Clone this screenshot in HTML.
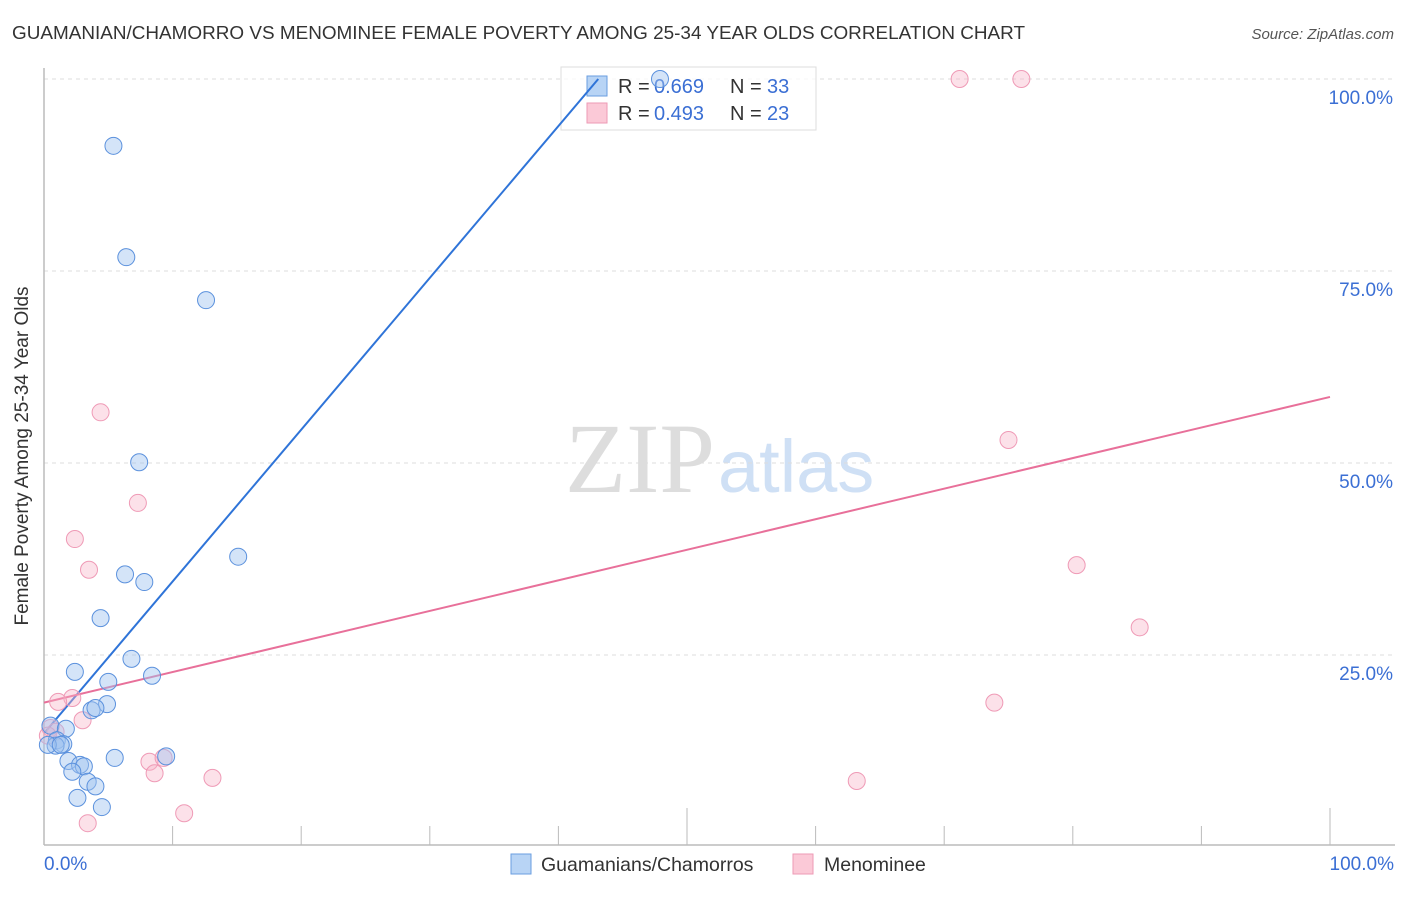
<!DOCTYPE html>
<html><head><meta charset="utf-8"><style>
body{margin:0;background:#fff;font-family:"Liberation Sans",sans-serif;}
</style></head><body>
<svg width="1406" height="892" xmlns="http://www.w3.org/2000/svg">
<text x="12" y="39" font-size="18" fill="#333" textLength="1013" lengthAdjust="spacingAndGlyphs">GUAMANIAN/CHAMORRO VS MENOMINEE FEMALE POVERTY AMONG 25-34 YEAR OLDS CORRELATION CHART</text>
<text x="1394" y="39" font-size="15" fill="#555" font-style="italic" text-anchor="end">Source: ZipAtlas.com</text>
<text x="715" y="492" font-size="100" fill="#ddd" text-anchor="end" font-family="Liberation Serif,serif">ZIP</text>
<text x="718" y="492" font-size="74" fill="#cfe0f5">atlas</text>
<g id="grid"></g>
<line x1="44" y1="68" x2="44" y2="845" stroke="#bbb" stroke-width="1.5"/>
<line x1="44" y1="845" x2="1395" y2="845" stroke="#bbb" stroke-width="1.5"/>
<g id="ticks"></g>
<text x="28" y="456" font-size="19" fill="#333" text-anchor="middle" transform="rotate(-90 28 456)">Female Poverty Among 25-34 Year Olds</text>
<text x="44" y="870" font-size="19" fill="#3b6fd4">0.0%</text>
<text x="1394" y="870" font-size="19" fill="#3b6fd4" text-anchor="end">100.0%</text>
<g>
<rect x="561" y="67" width="255" height="63" fill="#fff" fill-opacity="0.75" stroke="#ddd"/>
<rect x="587" y="76" width="20" height="20" fill="#b8d4f5" stroke="#6a9ee0"/>
<rect x="587" y="103" width="20" height="20" fill="#fbc9d7" stroke="#ee9ab5"/>
<text x="618" y="93" font-size="20" fill="#333">R =</text>
<text x="654" y="93" font-size="20" fill="#3b6fd4">0.669</text>
<text x="730" y="93" font-size="20" fill="#333">N =</text>
<text x="767" y="93" font-size="20" fill="#3b6fd4">33</text>
<text x="618" y="120" font-size="20" fill="#333">R =</text>
<text x="654" y="120" font-size="20" fill="#3b6fd4">0.493</text>
<text x="730" y="120" font-size="20" fill="#333">N =</text>
<text x="767" y="120" font-size="20" fill="#3b6fd4">23</text>
</g>
<g id="lines"></g>
<g id="pts"></g>
<g>
<rect x="511" y="854" width="20" height="20" fill="#b8d4f5" stroke="#6a9ee0"/>
<text x="541" y="871" font-size="19.5" fill="#333">Guamanians/Chamorros</text></g>
<g>
<rect x="793" y="854" width="20" height="20" fill="#fbc9d7" stroke="#ee9ab5"/>
<text x="824" y="871" font-size="19.5" fill="#333">Menominee</text></g>
</svg>
<script>
const yTicks=[25,50,75,100];
const yTickLabels=["25.0%","50.0%","75.0%","100.0%"];
const blueX=[5.4,6.4,12.6,7.4,15.1,6.3,7.8,4.4,6.8,2.4,8.4,5.0,4.9,3.7,4.0,0.5,1.7,1.0,1.5,0.9,0.3,1.3,1.9,5.5,9.5,2.8,3.1,2.2,3.4,4.0,2.6,4.5,47.9];
const blueY=[91.3,76.8,71.2,50.1,37.8,35.5,34.5,29.8,24.5,22.8,22.3,21.5,18.6,17.8,18.1,15.8,15.4,13.9,13.4,13.2,13.3,13.3,11.2,11.6,11.8,10.7,10.5,9.8,8.5,7.9,6.4,5.2,100];
const pinkX=[71.2,76.0,4.4,7.3,2.4,3.5,75.0,80.3,85.2,73.9,2.2,1.1,3.0,0.5,0.9,8.2,9.3,8.6,13.1,63.2,10.9,3.4,0.3];
const pinkY=[100,100,56.6,44.8,40.1,36.1,53.0,36.7,28.6,18.8,19.4,18.9,16.5,15.5,15.0,11.1,11.6,9.6,9.0,8.6,4.4,3.1,14.5];
const blueLine=[0,14.8,43.1,100];
const pinkLine=[0,18.8,100,58.6];
const NS="http://www.w3.org/2000/svg";
const sx=v=>44+v*12.86, sy=v=>847-v*7.68;
function mk(t,a,p){const e=document.createElementNS(NS,t);for(const k in a)e.setAttribute(k,a[k]);p.appendChild(e);return e;}
const grid=document.getElementById('grid');
yTicks.forEach((t,i)=>{
 const l=mk('line',{x1:44,x2:1395,y1:sy(t),y2:sy(t),stroke:'#ddd','stroke-dasharray':'4,4'},grid);
 
 
 const tx=mk('text',{x:1393,y:sy(t)+25,'font-size':19,fill:'#3b6fd4','text-anchor':'end'},grid);
 tx.textContent=yTickLabels[i];
 
 
});
const tk=document.getElementById('ticks');
for(let i=1;i<=10;i++){
 const l=mk('line',{x1:sx(i*10),x2:sx(i*10),y1:(i==5||i==10)?808:826,y2:845,stroke:'#bbb'},tk);
 
 
}
const pts=document.getElementById('pts');
pinkX.forEach((x,i)=>{
 const c=mk('circle',{cx:sx(x),cy:sy(pinkY[i]),r:8.5,fill:'rgba(248,180,200,0.4)',stroke:'#ef9ab6','stroke-width':1},pts);
 
 
});
blueX.forEach((x,i)=>{
 const c=mk('circle',{cx:sx(x),cy:sy(blueY[i]),r:8.5,fill:'rgba(160,195,240,0.45)',stroke:'#5b91dd','stroke-width':1},pts);
 
 
});
const lg=document.getElementById('lines');
const bl=mk('line',{x1:sx(blueLine[0]),y1:sy(blueLine[1]),x2:sx(blueLine[2]),y2:sy(blueLine[3]),stroke:'#2f74d8','stroke-width':2},lg);


const pl=mk('line',{x1:sx(pinkLine[0]),y1:sy(pinkLine[1]),x2:sx(pinkLine[2]),y2:sy(pinkLine[3]),stroke:'#e8709a','stroke-width':2},lg);


</script>
</body></html>
